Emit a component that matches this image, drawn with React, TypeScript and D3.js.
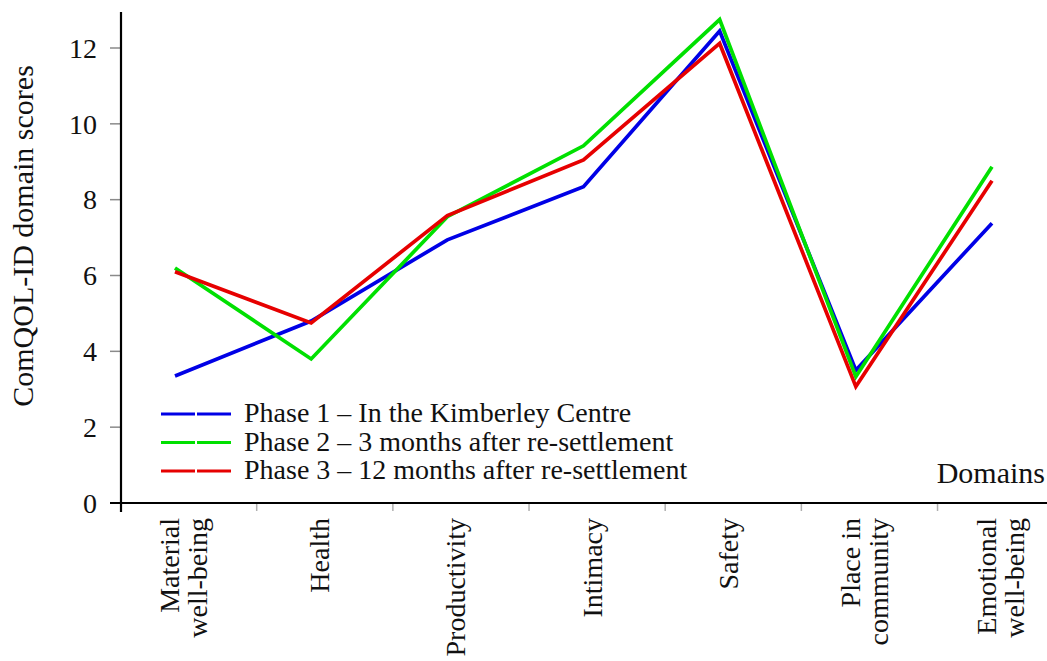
import React from "react";
import * as d3 from "d3";

const domains: string[][] = [
  ["Material", "well-being"],
  ["Health"],
  ["Productivity"],
  ["Intimacy"],
  ["Safety"],
  ["Place in", "community"],
  ["Emotional", "well-being"],
];
const domainKeys = domains.map((d) => d.join(" "));

const phase1 = [3.35, 4.8, 6.94, 8.34, 12.45, 3.5, 7.38];
const phase2 = [6.2, 3.8, 7.55, 9.42, 12.75, 3.33, 8.87];
const phase3 = [6.1, 4.75, 7.58, 9.05, 12.12, 3.07, 8.5];

const seriesNames = [
  "Phase 1 \u2013 In the Kimberley Centre",
  "Phase 2 \u2013 3 months after re-settlement",
  "Phase 3 \u2013 12 months after re-settlement",
];
const seriesColors = ["#0000e6", "#00e000", "#e60000"];
const yTicks = [0, 2, 4, 6, 8, 10, 12];

const W = 1047;
const H = 661;
const FONT = "'Liberation Serif', 'Times New Roman', serif";

export default function App() {
  const series = [phase1, phase2, phase3];
  const x = d3.scalePoint<string>().domain(domainKeys).range([175, 992]);
  const step = x.step();
  const y = d3.scaleLinear().domain([0, 12]).range([503, 48]);
  const axisX = 121;
  const axisY = y(0);

  const line = d3
    .line<number>()
    .x((_, i) => x(domainKeys[i]) as number)
    .y((v) => y(v));

  const betweenTicks = domainKeys.slice(0, -1).map((k) => (x(k) as number) + step * 0.6);

  return (
    <svg
      width={W}
      height={H}
      style={{ position: "absolute", left: 0, top: 0, background: "#fff" }}
      fontFamily={FONT}
    >
      <rect x={0} y={0} width={W} height={H} fill="#fff" />
      {/* y title */}
      <text
        transform={`translate(33, 236) rotate(-90)`}
        textAnchor="middle"
        fontSize={30}
        fill="#111"
      >
        ComQOL-ID domain scores
      </text>
      {/* y ticks */}
      {yTicks.map((t) => (
        <g key={t}>
          <line x1={110} x2={axisX} y1={y(t)} y2={y(t)} stroke="#8a8a8a" strokeWidth={1.5} />
          <text x={97} y={y(t)} dy="0.35em" textAnchor="end" fontSize={28} fill="#111">
            {t}
          </text>
        </g>
      ))}
      {/* x between ticks */}
      {betweenTicks.map((tx, i) => (
        <line key={i} x1={tx} x2={tx} y1={axisY} y2={axisY + 8} stroke="#b0b0b0" strokeWidth={1.5} />
      ))}
      {/* axes */}
      <line x1={axisX} x2={axisX} y1={12} y2={512} stroke="#000" strokeWidth={2.2} />
      <line x1={110} x2={W} y1={axisY} y2={axisY} stroke="#000" strokeWidth={2.2} />
      {/* x labels */}
      {domains.map((lines, i) => {
        const cx = (x(domainKeys[i]) as number) + 10;
        const L = 28;
        return (
          <g key={i}>
            {lines.map((ln, j) => {
              const base = lines.length === 1 ? cx + 8 : cx + 8 - L / 2 + j * L;
              return (
                <text
                  key={j}
                  transform={`translate(${base}, 518) rotate(-90)`}
                  textAnchor="end"
                  fontSize={28}
                  fill="#111"
                >
                  {ln}
                </text>
              );
            })}
          </g>
        );
      })}
      {/* Domains label */}
      <text x={1045} y={483} textAnchor="end" fontSize={30} fill="#111">
        Domains
      </text>
      {/* lines */}
      {series.map((s, i) => (
        <path
          key={i}
          d={line(s) as string}
          fill="none"
          stroke={seriesColors[i]}
          strokeWidth={3.7}
          strokeLinejoin="miter"
        />
      ))}
      {/* legend */}
      {seriesNames.map((n, i) => {
        const ly = 414 + i * 28.5;
        return (
          <g key={i}>
            <line
              x1={161}
              x2={231}
              y1={ly}
              y2={ly}
              stroke={seriesColors[i]}
              strokeWidth={3}
              strokeDasharray="34 2"
            />
            <text x={244} y={ly + 8} fontSize={28} fill="#111">
              {n}
            </text>
          </g>
        );
      })}
    </svg>
  );
}
